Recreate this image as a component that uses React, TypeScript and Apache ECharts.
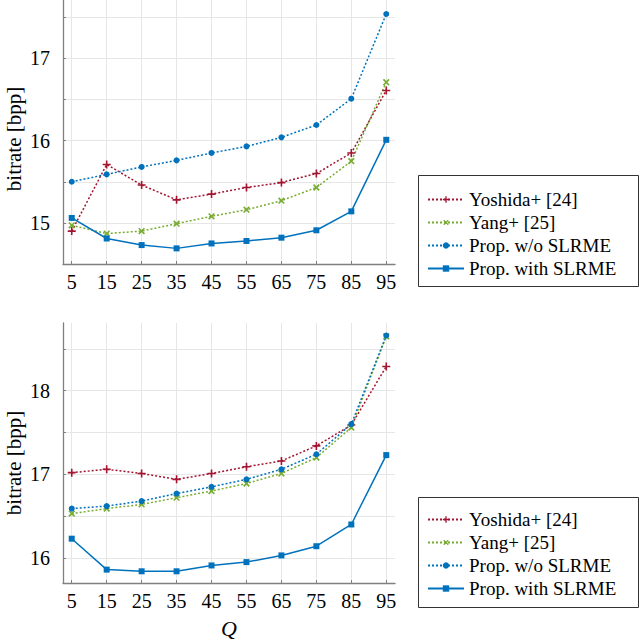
import React, { useEffect, useRef } from "react";
import * as echarts from "echarts";

const Q = [5, 15, 25, 35, 45, 55, 65, 75, 85, 95];
const seriesNames = ["Yoshida+ [24]", "Yang+ [25]", "Prop. w/o SLRME", "Prop. with SLRME"];

const topYoshida = [14.9, 15.71, 15.46, 15.28, 15.35, 15.43, 15.49, 15.6, 15.85, 16.61];
const topYang = [14.97, 14.87, 14.9, 14.99, 15.08, 15.16, 15.27, 15.43, 15.75, 16.71];
const topPropWo = [15.5, 15.59, 15.68, 15.76, 15.85, 15.93, 16.04, 16.19, 16.51, 17.54];
const topPropWith = [15.06, 14.81, 14.73, 14.69, 14.75, 14.78, 14.82, 14.91, 15.14, 16.01];

const botYoshida = [17.02, 17.06, 17.01, 16.94, 17.01, 17.09, 17.16, 17.34, 17.59, 18.29];
const botYang = [16.53, 16.59, 16.64, 16.72, 16.8, 16.89, 17.01, 17.2, 17.56, 18.65];
const botPropWo = [16.59, 16.62, 16.68, 16.77, 16.85, 16.94, 17.06, 17.24, 17.6, 18.66];
const botPropWith = [16.23, 15.86, 15.84, 15.84, 15.91, 15.95, 16.03, 16.14, 16.4, 17.23];

const topTicks = [15, 15.5, 16, 16.5, 17, 17.5];
const topLabels = [15, 16, 17];
const botTicks = [16, 16.5, 17, 17.5, 18, 18.5];
const botLabels = [16, 17, 18];

const RED = "#A2142F";
const GREEN = "#77AC30";
const BLUE = "#0072BD";
const FONT = "Liberation Serif";

const PLUS = "path://M4,0H6V4H10V6H6V10H4V6H0V4H4Z";

export default function App() {
  const ref = useRef<HTMLDivElement>(null);
  useEffect(() => {
    if (!ref.current) return;
    const chart = echarts.init(ref.current, null, { renderer: "svg" });

    const grids = [
      { left: 63, top: 0, width: 332, height: 264 },
      { left: 63, top: 323, width: 332, height: 263 },
    ];

    const xAxisBase = (gi: number, withName: boolean) => ({
      type: "value",
      gridIndex: gi,
      min: 2.5,
      max: 97.5,
      axisLine: { show: true, onZero: false, lineStyle: { color: "#808080", width: 1.3 } },
      axisTick: { show: true, inside: true, length: 3, customValues: Q, lineStyle: { color: "#808080" } },
      axisLabel: { customValues: Q, fontFamily: FONT, fontSize: 20, color: "#000", margin: 8 },
      splitLine: { show: true, lineStyle: { color: "#e6e6e6", width: 1 } },
      name: withName ? "Q" : "",
      nameLocation: "middle",
      nameGap: 34,
      nameTextStyle: { fontFamily: FONT, fontSize: 22, fontStyle: "italic", color: "#000" },
    });

    const yAxisBase = (gi: number, min: number, max: number, ticks: number[], labels: number[]) => ({
      type: "value",
      gridIndex: gi,
      min,
      max,
      axisLine: { show: true, lineStyle: { color: "#808080", width: 1.3 } },
      axisTick: { show: true, inside: true, length: 3, customValues: ticks, lineStyle: { color: "#808080" } },
      axisLabel: { customValues: labels, fontFamily: FONT, fontSize: 20, color: "#000", margin: 13 },
      splitLine: { show: true, lineStyle: { color: "#e6e6e6", width: 1 } },
    });

    const mk = (gi: number, vals: number[][]) => {
      const styles = [
        { color: RED, symbol: PLUS, size: 8, rotate: 0, type: [2, 2] },
        { color: GREEN, symbol: PLUS, size: 8, rotate: 45, type: [2, 2] },
        { color: BLUE, symbol: "circle", size: 6, rotate: 0, type: [2, 2] },
        { color: BLUE, symbol: "rect", size: 6, rotate: 0, type: "solid" },
      ];
      return vals.map((v, i) => ({
        type: "line",
        name: seriesNames[i],
        xAxisIndex: gi,
        yAxisIndex: gi,
        data: Q.map((q, k) => [q, v[k]]),
        symbol: styles[i].symbol,
        symbolSize: styles[i].size,
        symbolRotate: styles[i].rotate,
        showSymbol: true,
        lineStyle: { color: styles[i].color, width: 1.5, type: styles[i].type },
        itemStyle: { color: styles[i].color },
      }));
    };

    const legendBase = (top: number) => ({
      orient: "vertical",
      left: 427,
      top,
      itemWidth: 36,
      itemHeight: 8,
      itemGap: 4,
      padding: 0,
      data: seriesNames,
      textStyle: { fontFamily: FONT, fontSize: 19, color: "#000" },
      selectedMode: false,
    });

    chart.setOption({
      animation: false,
      grid: grids,
      xAxis: [xAxisBase(0, false), xAxisBase(1, true)],
      yAxis: [
        yAxisBase(0, 14.5, 17.71, topTicks, topLabels),
        yAxisBase(1, 15.7, 18.81, botTicks, botLabels),
      ],
      legend: [legendBase(190), legendBase(510)],
      series: [
        ...mk(0, [topYoshida, topYang, topPropWo, topPropWith]),
        ...mk(1, [botYoshida, botYang, botPropWo, botPropWith]),
      ],
      graphic: [
        { type: "rect", shape: { x: 418.5, y: 175.5, width: 220, height: 111 }, style: { fill: "#fff", stroke: "#333", lineWidth: 1 }, z: -1 },
        { type: "rect", shape: { x: 418.5, y: 497.5, width: 220, height: 110 }, style: { fill: "#fff", stroke: "#333", lineWidth: 1 }, z: -1 },
        { type: "text", x: 14, y: 139, rotation: Math.PI / 2, style: { text: "bitrate [bpp]", fontFamily: FONT, fontSize: 21, fill: "#000", align: "center", verticalAlign: "middle" } },
        { type: "text", x: 14, y: 463, rotation: Math.PI / 2, style: { text: "bitrate [bpp]", fontFamily: FONT, fontSize: 21, fill: "#000", align: "center", verticalAlign: "middle" } },
      ],
    });
    return () => chart.dispose();
  }, []);
  return <div ref={ref} style={{ position: "fixed", left: 0, top: 0, width: 640, height: 640, background: "#fff" }} />;
}
